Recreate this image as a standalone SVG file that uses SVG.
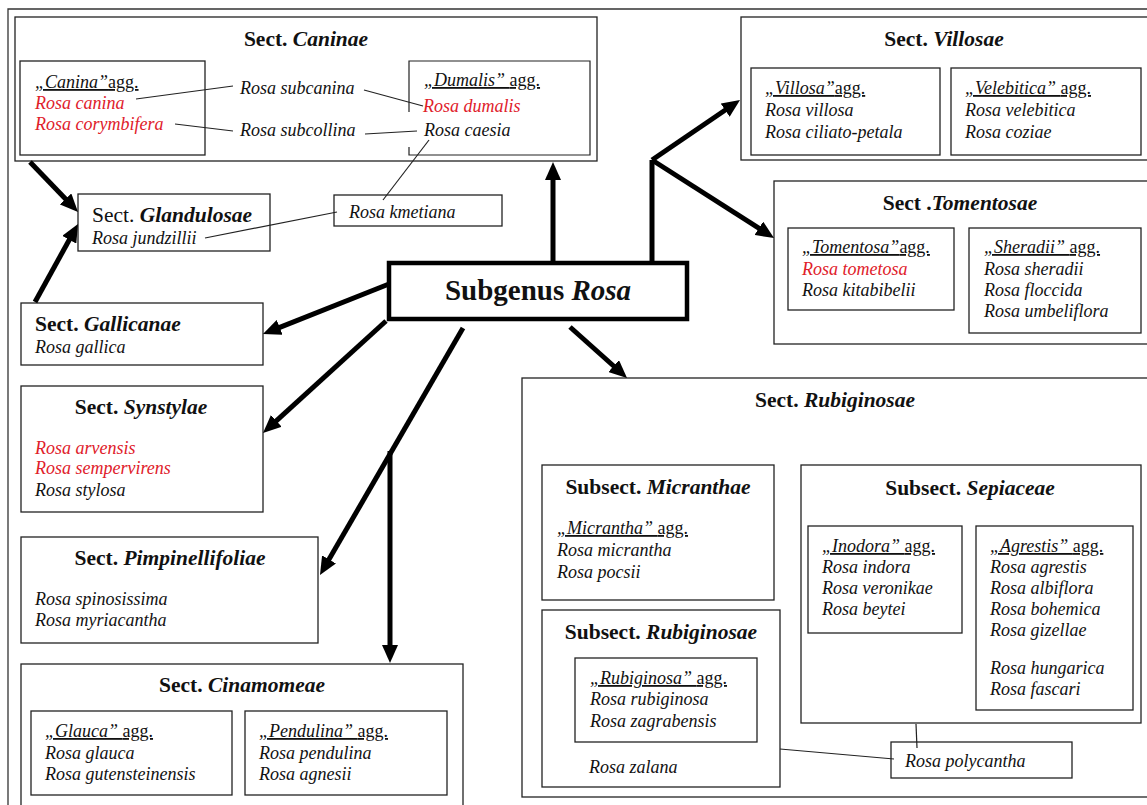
<svg xmlns="http://www.w3.org/2000/svg" width="1147" height="805" viewBox="0 0 1147 805">
<style>
text{font-family:"Liberation Serif","Times New Roman",serif;fill:#111}
.b{stroke:#222;stroke-width:1.3;fill:#fff}
.t{font-size:21.5px;font-weight:bold}
.s{font-size:18px;font-style:italic}
.r{fill:#e0202a}
.i{font-style:italic}
.n{font-style:normal}
.u{text-decoration:underline}
.ar{stroke:#000;stroke-width:5;fill:none;marker-end:url(#ah)}
.th{stroke:#222;stroke-width:1.2;fill:none}
</style>
<defs>
<marker id="ah" markerUnits="userSpaceOnUse" markerWidth="18" markerHeight="16" refX="6" refY="8" orient="auto">
<path d="M0,0 L18,8 L0,16 z" fill="#000"/>
</marker>
</defs>
<rect width="1147" height="805" fill="#fff"/>
<path d="M8,805 V9 H1147" fill="none" stroke="#333" stroke-width="1.3"/>

<g id="caninae">
<rect class="b" x="15" y="17" width="582" height="144"/>
<text class="t" x="306" y="46" text-anchor="middle">Sect. <tspan class="i">Caninae</tspan></text>
<rect class="b" x="20" y="61" width="185" height="94"/>
<text class="s u" x="35" y="88">„Canina”<tspan class="n">agg.</tspan></text>
<text class="s r" x="35" y="109">Rosa canina</text>
<text class="s r" x="35" y="130">Rosa corymbifera</text>
<text class="s" x="240" y="94">Rosa subcanina</text>
<text class="s" x="240" y="136">Rosa subcollina</text>
<path class="th" d="M409,112 V61 H590 V155 H409 V147" fill="none"/>
<text class="s u" x="424" y="86">„Dumalis” <tspan class="n">agg.</tspan></text>
<text class="s r" x="423" y="112">Rosa dumalis</text>
<text class="s" x="424" y="136">Rosa caesia</text>
</g>

<g id="glandulosae">
<rect class="b" x="78" y="194" width="192" height="57"/>
<text x="92" y="222" style="font-size:21.5px">Sect. <tspan font-weight="bold" font-style="italic">Glandulosae</tspan></text>
<text class="s" x="92" y="244">Rosa jundzillii</text>
</g>

<g id="kmetiana">
<rect class="b" x="334" y="195" width="168" height="31"/>
<text class="s" x="349" y="218">Rosa kmetiana</text>
</g>

<g id="subgenus">
<rect x="389" y="263" width="298" height="56" fill="#fff" stroke="#000" stroke-width="4.5"/>
<text x="538" y="300" text-anchor="middle" style="font-size:29px;font-weight:bold">Subgenus <tspan class="i">Rosa</tspan></text>
</g>

<g id="villosae">
<rect class="b" x="741" y="17" width="410" height="143"/>
<text class="t" x="944" y="46" text-anchor="middle">Sect. <tspan class="i">Villosae</tspan></text>
<rect class="b" x="751" y="68" width="189" height="87"/>
<text class="s u" x="765" y="94">„Villosa”<tspan class="n">agg.</tspan></text>
<text class="s" x="765" y="116">Rosa villosa</text>
<text class="s" x="765" y="138">Rosa ciliato-petala</text>
<rect class="b" x="951" y="68" width="190" height="87"/>
<text class="s u" x="965" y="94">„Velebitica” <tspan class="n">agg.</tspan></text>
<text class="s" x="965" y="116">Rosa velebitica</text>
<text class="s" x="965" y="138">Rosa coziae</text>
</g>

<g id="tomentosae">
<rect class="b" x="774" y="181" width="377" height="163"/>
<text class="t" x="960" y="210" text-anchor="middle">Sect .<tspan class="i">Tomentosae</tspan></text>
<rect class="b" x="788" y="228" width="166" height="82"/>
<text class="s u" x="802" y="253">„Tomentosa”<tspan class="n">agg.</tspan></text>
<text class="s r" x="802" y="275">Rosa tometosa</text>
<text class="s" x="802" y="296">Rosa kitabibelii</text>
<rect class="b" x="969" y="228" width="172" height="105"/>
<text class="s u" x="984" y="253">„Sheradii” <tspan class="n">agg.</tspan></text>
<text class="s" x="984" y="275">Rosa sheradii</text>
<text class="s" x="984" y="296">Rosa floccida</text>
<text class="s" x="984" y="317">Rosa umbeliflora</text>
</g>

<g id="gallicanae">
<rect class="b" x="21" y="303" width="242" height="62"/>
<text class="t" x="35" y="331">Sect. <tspan class="i">Gallicanae</tspan></text>
<text class="s" x="35" y="353">Rosa gallica</text>
</g>

<g id="synstylae">
<rect class="b" x="21" y="386" width="242" height="126"/>
<text class="t" x="141" y="414" text-anchor="middle">Sect. <tspan class="i">Synstylae</tspan></text>
<text class="s r" x="35" y="454">Rosa arvensis</text>
<text class="s r" x="35" y="474">Rosa sempervirens</text>
<text class="s" x="35" y="496">Rosa stylosa</text>
</g>

<g id="pimpinellifoliae">
<rect class="b" x="21" y="537" width="297" height="106"/>
<text class="t" x="170" y="565" text-anchor="middle">Sect. <tspan class="i">Pimpinellifoliae</tspan></text>
<text class="s" x="35" y="605">Rosa spinosissima</text>
<text class="s" x="35" y="626">Rosa myriacantha</text>
</g>

<g id="cinamomeae">
<rect class="b" x="21" y="664" width="442" height="145"/>
<text class="t" x="242" y="692" text-anchor="middle">Sect. <tspan class="i">Cinamomeae</tspan></text>
<rect class="b" x="31" y="711" width="201" height="84"/>
<text class="s u" x="45" y="737">„Glauca” <tspan class="n">agg.</tspan></text>
<text class="s" x="45" y="759">Rosa glauca</text>
<text class="s" x="45" y="780">Rosa gutensteinensis</text>
<rect class="b" x="245" y="711" width="202" height="84"/>
<text class="s u" x="259" y="737">„Pendulina” <tspan class="n">agg.</tspan></text>
<text class="s" x="259" y="759">Rosa pendulina</text>
<text class="s" x="259" y="780">Rosa agnesii</text>
</g>

<g id="rubiginosae">
<rect class="b" x="522" y="378" width="629" height="419"/>
<text class="t" x="835" y="407" text-anchor="middle">Sect. <tspan class="i">Rubiginosae</tspan></text>
</g>

<g id="micranthae">
<rect class="b" x="542" y="465" width="232" height="135"/>
<text class="t" x="658" y="494" text-anchor="middle">Subsect. <tspan class="i">Micranthae</tspan></text>
<text class="s u" x="557" y="534">„Micrantha” <tspan class="n">agg.</tspan></text>
<text class="s" x="557" y="556">Rosa micrantha</text>
<text class="s" x="557" y="578">Rosa pocsii</text>
</g>

<g id="subsect-rubiginosae">
<rect class="b" x="542" y="610" width="238" height="177"/>
<text class="t" x="661" y="639" text-anchor="middle">Subsect. <tspan class="i">Rubiginosae</tspan></text>
<rect class="b" x="575" y="658" width="182" height="84"/>
<text class="s u" x="590" y="684">„Rubiginosa” <tspan class="n">agg.</tspan></text>
<text class="s" x="590" y="705">Rosa rubiginosa</text>
<text class="s" x="590" y="727">Rosa zagrabensis</text>
<text class="s" x="589" y="773">Rosa zalana</text>
</g>

<g id="sepiaceae">
<rect class="b" x="801" y="465" width="340" height="258"/>
<text class="t" x="970" y="495" text-anchor="middle">Subsect. <tspan class="i">Sepiaceae</tspan></text>
<rect class="b" x="808" y="526" width="154" height="107"/>
<text class="s u" x="822" y="552">„Inodora” <tspan class="n">agg.</tspan></text>
<text class="s" x="822" y="573">Rosa indora</text>
<text class="s" x="822" y="594">Rosa veronikae</text>
<text class="s" x="822" y="615">Rosa beytei</text>
<rect class="b" x="976" y="526" width="157" height="184"/>
<text class="s u" x="990" y="552">„Agrestis” <tspan class="n">agg.</tspan></text>
<text class="s" x="990" y="573">Rosa agrestis</text>
<text class="s" x="990" y="594">Rosa albiflora</text>
<text class="s" x="990" y="615">Rosa bohemica</text>
<text class="s" x="990" y="636">Rosa gizellae</text>
<text class="s" x="990" y="674">Rosa hungarica</text>
<text class="s" x="990" y="695">Rosa fascari</text>
</g>

<g id="polycantha">
<rect class="b" x="891" y="742" width="181" height="36"/>
<text class="s" x="905" y="767">Rosa polycantha</text>
</g>

<g id="connectors">
<path class="th" d="M136,99 L233,86"/>
<path class="th" d="M364,90 L423,106"/>
<path class="th" d="M175,124 L233,131"/>
<path class="th" d="M365,134 L417,131"/>
<path class="th" d="M429,140 L383,200"/>
<path class="th" d="M337,212 L205,238"/>
<path class="th" d="M916,724 L917,748"/>
<path class="th" d="M780,749 L894,759"/>
<path class="ar" d="M30,162 L69.7,203.3"/>
<path class="ar" d="M35,302 L72.2,234.5"/>
<path class="ar" d="M553,263 L553,174"/>
<path d="M652,263 L652,160" stroke="#000" stroke-width="5" fill="none"/>
<path class="ar" d="M652,160 L730.1,106.8"/>
<path class="ar" d="M652,160 L763.9,231.5"/>
<path class="ar" d="M389,284 L274.1,329.6"/>
<path class="ar" d="M386,321 L271.9,424.9"/>
<path class="ar" d="M463,328 L326,564.6"/>
<path class="ar" d="M390,451 L390,651"/>
<path class="ar" d="M570,327 L618.1,370"/>
</g>
</svg>
